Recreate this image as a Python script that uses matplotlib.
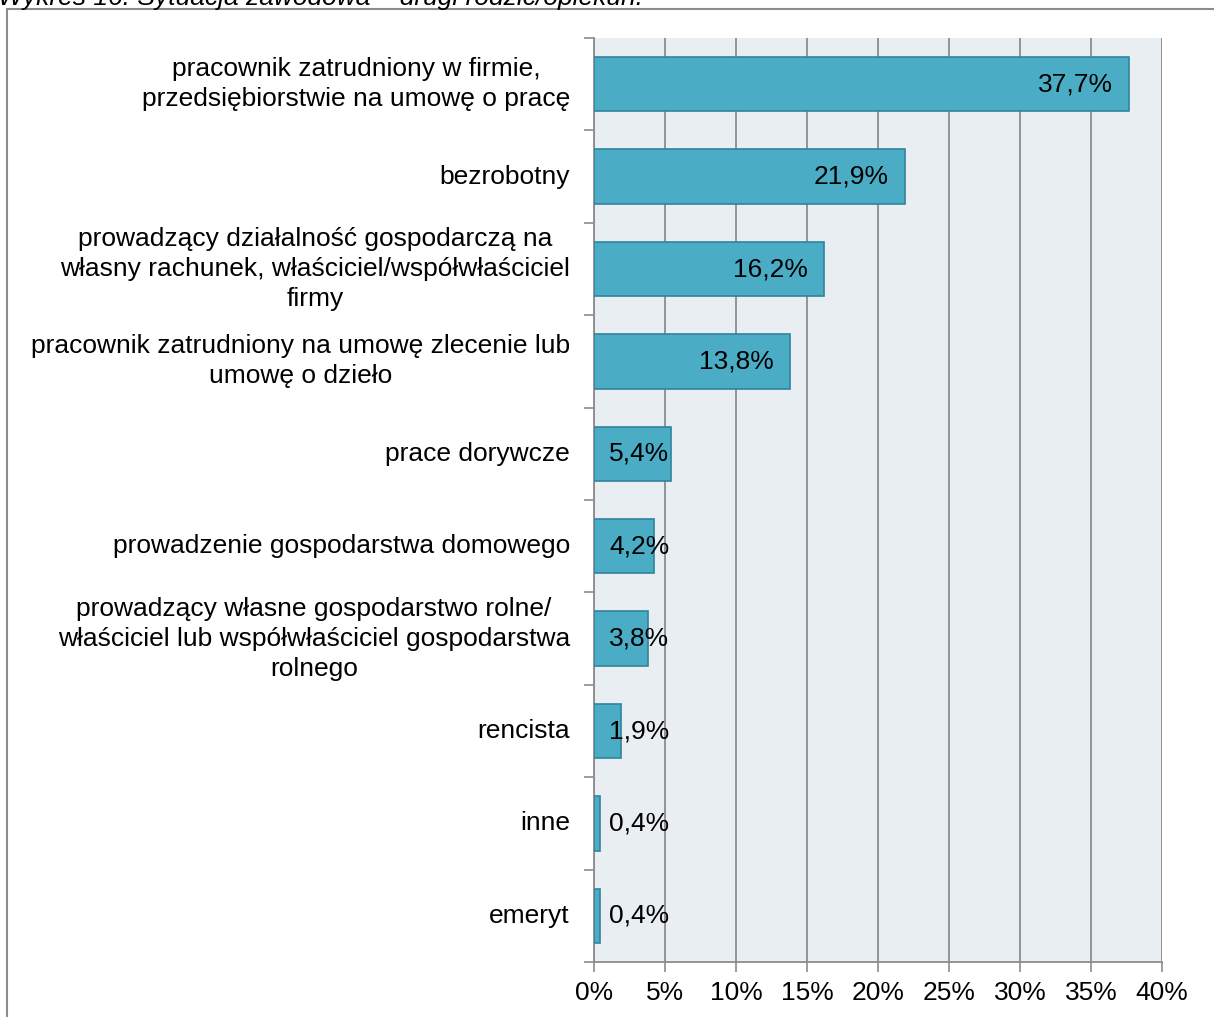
import matplotlib.pyplot as plt
import matplotlib.patches as patches
from matplotlib.ticker import MultipleLocator, FuncFormatter

plt.rcParams['font.family'] = ['Liberation Sans', 'DejaVu Sans']

# dane (od góry do dołu)
categories = [
    "pracownik zatrudniony w firmie,\nprzedsiębiorstwie na umowę o pracę",
    "bezrobotny",
    "prowadzący działalność gospodarczą na\nwłasny rachunek, właściciel/współwłaściciel\nfirmy",
    "pracownik zatrudniony na umowę zlecenie lub\numowę o dzieło",
    "prace dorywcze",
    "prowadzenie gospodarstwa domowego",
    "prowadzący własne gospodarstwo rolne/\nwłaściciel lub współwłaściciel gospodarstwa\nrolnego",
    "rencista",
    "inne",
    "emeryt",
]
values = [37.7, 21.9, 16.2, 13.8, 5.4, 4.2, 3.8, 1.9, 0.4, 0.4]
title = "Wykres 16. Sytuacja zawodowa – drugi rodzic/opiekun."

FS = 19
W, H = 1214, 1017
fig = plt.figure(figsize=(W / 100, H / 100), dpi=100)

# axes w pikselach: lewa 594, prawa 1162, góra 38, dół 962
ax = fig.add_axes([594 / W, 1 - 962 / H, (1162 - 594) / W, (962 - 38) / H])
ax.set_facecolor('#E8EEF2')

pos = list(range(len(values)))
ax.barh(pos, values, height=0.59, color='#4BACC6', edgecolor='#31849B', linewidth=1.2, zorder=3)

ax.set_xlim(0, 40)
ax.set_ylim(len(values) - 0.5, -0.5)
ax.xaxis.set_major_locator(MultipleLocator(5))
ax.xaxis.set_major_formatter(FuncFormatter(lambda v, p: f"{v:.0f}%"))
ax.grid(axis='x', color='#8C8C8C', linewidth=1.3, zorder=1)
ax.set_axisbelow(True)

ax.set_yticks([i + 0.5 for i in range(-1, len(values))])
ax.set_yticklabels([])
ax.tick_params(axis='y', length=7, width=1.2, color='#8C8C8C', direction='out')
ax.tick_params(axis='x', length=7, width=1.2, color='#8C8C8C', labelsize=FS, pad=7)

for i, lab in enumerate(categories):
    ax.annotate(lab, xy=(0, i), xycoords=('axes fraction', 'data'), xytext=(-24, 0),
                textcoords='offset pixels', ha='right', va='center', multialignment='center',
                fontsize=FS, linespacing=1.32)

# etykiety wartości
for i, v in enumerate(values):
    txt = f"{v:.1f}%".replace('.', ',')
    if v > 10:
        ax.annotate(txt, xy=(v, i), xytext=(-16, 0), textcoords='offset pixels',
                    ha='right', va='center', fontsize=FS, zorder=5)
    else:
        ax.annotate(txt, xy=(0, i), xytext=(15, 0), textcoords='offset pixels',
                    ha='left', va='center', fontsize=FS, zorder=5)

for s in ['top', 'right']:
    ax.spines[s].set_visible(False)
for s in ['left', 'bottom']:
    ax.spines[s].set_color('#8C8C8C')
    ax.spines[s].set_linewidth(1.3)

# ramka wykresu
fig.patches.append(patches.Rectangle((7 / W, -0.05), 1.1, 1 - 9 / H + 0.05,
                                     transform=fig.transFigure, fill=False,
                                     edgecolor='#8C8C8C', linewidth=1.5))

# tytuł (obcięty u góry)
fig.text(-2 / W, 1 - 5 / H, title, ha='left', va='baseline', fontsize=FS, style='italic')

fig.savefig('out.png', dpi=100)
